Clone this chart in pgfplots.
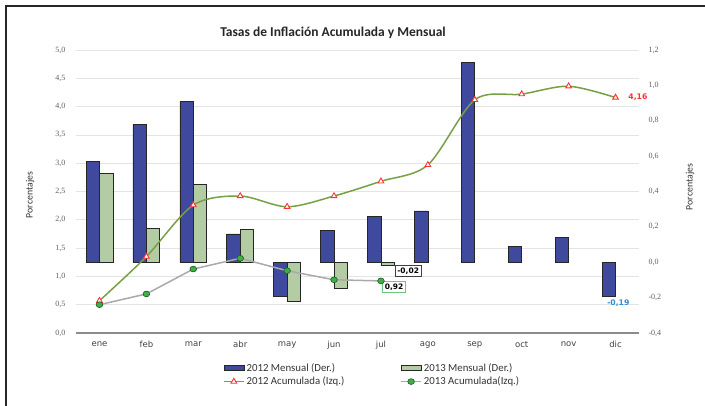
\documentclass[border=0pt]{standalone}
\usepackage{pgfplots}
\pgfplotsset{compat=1.18}
\usepackage{fontspec}
\setmainfont{Carlito}
\newfontfamily\tickfont{Liberation Serif}
\newfontfamily\dv{DejaVu Sans}
\definecolor{bluebar}{RGB}{63,74,158}
\definecolor{greenbar}{RGB}{179,204,163}
\definecolor{acc12}{RGB}{119,160,68}
\definecolor{acc13}{RGB}{170,170,170}
\definecolor{dotgreen}{RGB}{60,176,72}
\definecolor{dotedge}{RGB}{30,90,30}
\definecolor{tri}{RGB}{255,50,50}
\definecolor{lblblue}{RGB}{50,140,210}
\definecolor{gridc}{RGB}{228,228,228}
\definecolor{tickc}{RGB}{95,95,95}
\definecolor{boxgreen}{RGB}{110,200,130}
\pgfplotsset{
  barleg/.style={legend image code/.code={\draw[##1] (0pt,-2.5pt) rectangle (20pt,2.5pt);}},
  lineleg/.style={legend image code/.code={\draw[mark repeat=2,mark phase=2,##1] plot coordinates {(0pt,0pt) (10pt,0pt) (20pt,0pt)};}},
  common/.style={scale only axis, width=563pt, height=283pt, at={(0pt,0pt)}, anchor=south west,
    xmin=-0.5, xmax=11.5, clip=false, major tick length=0pt,
    /pgf/number format/assume math mode=true,
    /pgf/number format/use comma, /pgf/number format/fixed,
    /pgf/number format/fixed zerofill, /pgf/number format/precision=1},
}
\pgfplotstableread{
x m12 m13
0 0.57 0.50
1 0.78 0.19
2 0.91 0.44
3 0.16 0.185
4 -0.19 -0.22
5 0.18 -0.15
6 0.26 -0.02
}\mensualA
\pgfplotstableread{
x m12
7 0.29
8 1.13
9 0.09
10 0.14
11 -0.19
}\mensualB
\pgfplotstableread{
x a12
0 0.57
1 1.35
2 2.26
3 2.42
4 2.23
5 2.42
6 2.68
7 2.97
8 4.12
9 4.22
10 4.36
11 4.16
}\acumA
\pgfplotstableread{
x a13
0 0.50
1 0.69
2 1.13
3 1.32
4 1.10
5 0.94
6 0.92
}\acumB
\begin{document}
\begin{tikzpicture}
\useasboundingbox (-76pt,-72pt) rectangle (629pt,333pt);
% bars, right axis
\begin{axis}[common, ymin=-0.4, ymax=1.2,
  axis x line=none, axis y line*=right, y axis line style={draw=none},
  ytick={-0.4,-0.2,0,0.2,0.4,0.6,0.8,1.0,1.2},
  yticklabel style={font=\tickfont\fontsize{8}{9}\selectfont, text=tickc, anchor=west, xshift=6pt},
  extra y ticks={-0.24,-0.08,0.08,0.24,0.4,0.56,0.72,0.88,1.04,1.2},
  extra y tick labels={},
  extra y tick style={grid=major, major grid style={draw=gridc, line width=0.8pt}},
]
\addplot[ybar, bar width=13.4pt, bar shift=-6.7pt, fill=bluebar, draw=black!85, line width=0.7pt] table[x=x,y=m12] {\mensualA};
\addplot[ybar, bar width=13.4pt, bar shift=-6.7pt, fill=bluebar, draw=black!85, line width=0.7pt] table[x=x,y=m12] {\mensualB};
\addplot[ybar, bar width=13.4pt, bar shift=6.7pt, fill=greenbar, draw=black!85, line width=0.7pt] table[x=x,y=m13] {\mensualA};
\end{axis}
% lines, left axis
\begin{axis}[common, ymin=0, ymax=5,
  axis x line*=bottom, axis y line*=left, y axis line style={draw=none},
  x axis line style={draw=black!45, line width=1.5pt, -},
  xtick={0,1,2,3,4,5,6,7,8,9,10,11},
  xticklabels={ene,feb,mar,abr,may,jun,jul,ago,sep,oct,nov,dic},
  xticklabel style={font=\dv\fontsize{8.5}{10}\selectfont, text=black!75, yshift=-5pt},
  ytick={0,0.5,1,1.5,2,2.5,3,3.5,4,4.5,5},
  yticklabel style={font=\tickfont\fontsize{8}{9}\selectfont, text=tickc, anchor=east, xshift=-7pt},
  legend style={at={(0.526,-0.148)}, anchor=center, draw=none, fill=none,
    font=\fontsize{10.8}{12}\selectfont, text=black!80, row sep=0pt,
    /tikz/every even column/.append style={column sep=54pt}},
  legend columns=2, legend cell align=left,
]
\addlegendimage{barleg, fill=bluebar, draw=black!85, line width=0.6pt}
\addlegendentry{2012 Mensual (Der.)}
\addlegendimage{barleg, fill=greenbar, draw=black!85, line width=0.6pt}
\addlegendentry{2013 Mensual (Der.)}
\addplot[lineleg, acc12, line width=1.5pt, smooth, mark=triangle*, mark size=3.3pt,
  mark options={fill=white, draw=tri, line width=0.9pt, solid}] table[x=x,y=a12] {\acumA};
\addlegendentry{2012 Acumulada (Izq.)}
\addplot[lineleg, acc13, line width=1.5pt, mark=*, mark size=2.9pt,
  mark options={fill=dotgreen, draw=dotedge, line width=0.6pt, solid, xscale=1.15}] table[x=x,y=a13] {\acumB};
\addlegendentry{2013 Acumulada(Izq.)}
\node[anchor=west, font=\dv\bfseries\fontsize{7.7}{9}\selectfont, text=tri] at (axis cs:11.2,4.16) {4,16};
\node[font=\dv\bfseries\fontsize{7.7}{9}\selectfont, text=lblblue] at (axis cs:11.06,0.53) {-0,19};
\node[draw=black!75, fill=white, line width=0.7pt, inner sep=2pt, font=\dv\bfseries\fontsize{7.5}{9}\selectfont] at (axis cs:6.58,1.095) {-0,02};
\node[draw=boxgreen, fill=white, line width=0.7pt, inner sep=2pt, font=\dv\bfseries\fontsize{7.5}{9}\selectfont] at (axis cs:6.28,0.81) {0,92};
\end{axis}
\node[font=\bfseries\fontsize{13.5}{15}\selectfont, text=black!85] at (257pt,300pt) {Tasas de Inflación Acumulada y Mensual};
\node[rotate=90, font=\fontsize{9.8}{11}\selectfont, text=black!80] at (-46pt,138pt) {Porcentajes};
\node[rotate=90, font=\fontsize{9.8}{11}\selectfont, text=black!80] at (614pt,146pt) {Porcentajes};
\draw[line width=2pt, black!85] (-70pt,-80pt) -- (-70pt,327pt) -- (640pt,327pt);
\end{tikzpicture}
\end{document}
